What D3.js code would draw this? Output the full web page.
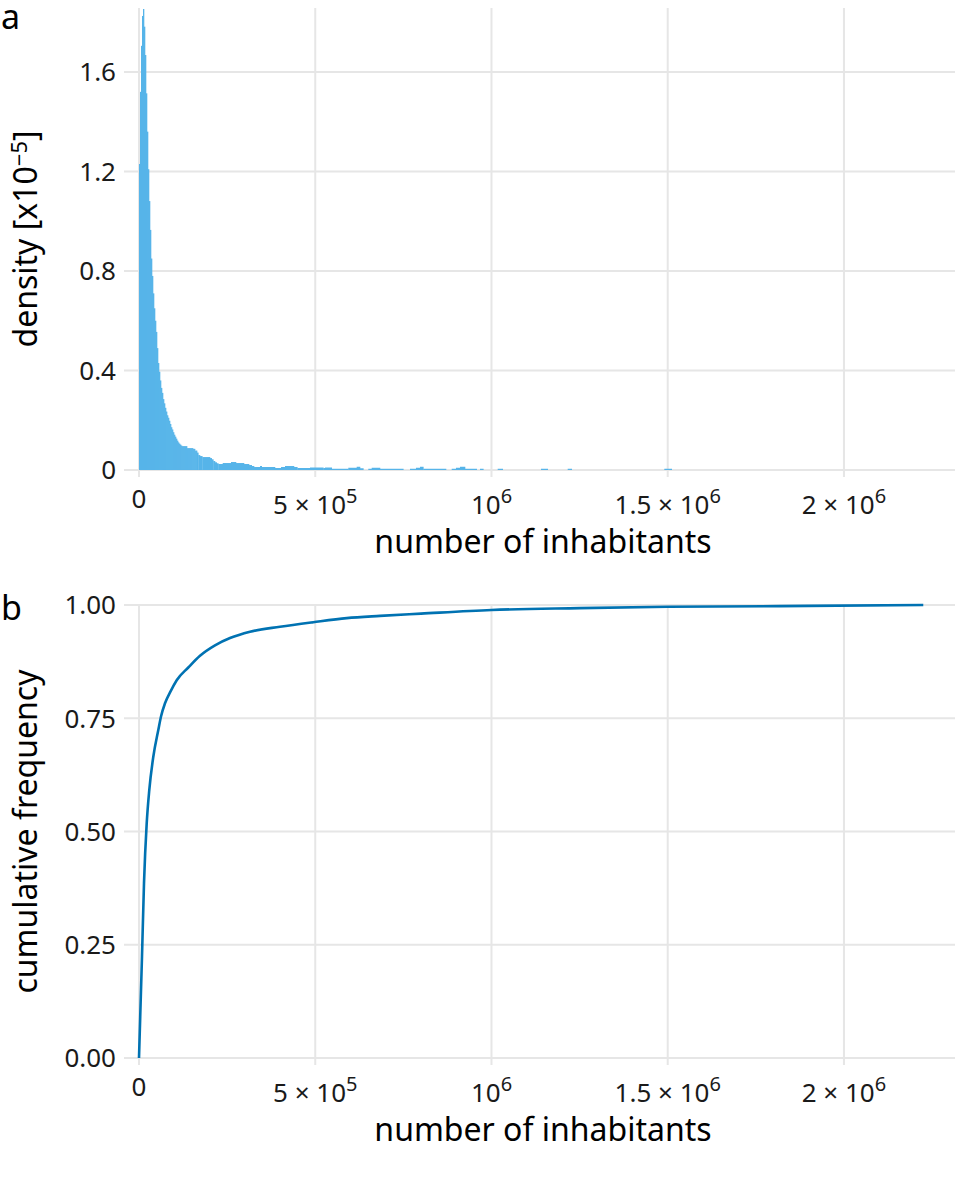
<!DOCTYPE html>
<html>
<head>
<meta charset="utf-8">
<script src="https://cdn.jsdelivr.net/npm/d3@7"></script>
<style>
  body { margin: 0; background: #fff; }
  svg { display: block; font-family: "Noto Sans", sans-serif; }
</style>
</head>
<body>
<svg id="chart" width="960" height="1186"></svg>
<script>
// histogram: regular bins of width binWidth starting at 0, density in units of 1e-5
const binWidth = 2840;
const densityFine = [
  1.23, 1.52, 1.705, 1.825, 1.853, 1.782, 1.668, 1.514, 1.36, 1.209,
  1.081, 0.965, 0.85, 0.78, 0.71, 0.65, 0.60, 0.555, 0.49, 0.43,
  0.395, 0.36, 0.33, 0.31, 0.285, 0.268, 0.25, 0.235, 0.22, 0.21,
  0.198, 0.185, 0.172, 0.163, 0.152, 0.142, 0.134, 0.126, 0.118, 0.111,
  0.106, 0.102, 0.098, 0.096, 0.096, 0.096, 0.096, 0.096, 0.088, 0.088,
  0.088, 0.088, 0.088, 0.088, 0.085, 0.085, 0.078, 0.078
];
// tail of the histogram: runs of bins with equal height [from, to, density]
const densityTail = [
  [164500, 168200, 0.070], [168200, 173100, 0.060], [173100, 179600, 0.056],
  [179600, 201400, 0.052], [201400, 206200, 0.048], [206200, 210800, 0.043],
  [210800, 215600, 0.036], [215600, 220400, 0.031], [220400, 225000, 0.027],
  [225000, 237500, 0.024], [237500, 261000, 0.028], [261000, 275200, 0.032],
  [275200, 297900, 0.028], [297900, 312100, 0.024], [312100, 319700, 0.020],
  [319700, 326300, 0.016], [326300, 343300, 0.012], [343300, 348100, 0.016],
  [348100, 385800, 0.012], [385800, 402900, 0.008], [402900, 414200, 0.012],
  [414200, 439700, 0.016], [439700, 449100, 0.012], [449100, 485100, 0.008],
  [485100, 522900, 0.010], [522900, 527700, 0.008], [527700, 546700, 0.010],
  [546700, 593800, 0.005], [593800, 617600, 0.009], [617600, 627000, 0.013],
  [627000, 636400, 0.007], [650500, 660100, 0.005], [660100, 683700, 0.009],
  [683700, 749800, 0.005], [768800, 785800, 0.005], [785800, 797200, 0.009],
  [797200, 806600, 0.013], [806600, 871000, 0.005], [887100, 899300, 0.005],
  [899300, 910700, 0.009], [910700, 924900, 0.013], [924900, 958000, 0.005],
  [967400, 976800, 0.005], [1017600, 1031800, 0.005], [1140500, 1159500, 0.005],
  [1216200, 1227600, 0.005], [1490300, 1511300, 0.005]
];

// empirical cumulative frequency
const ecdfX = [0, 8510, 14190, 21840, 29220, 40570, 54750, 62410, 73760, 89930,
  106950, 139870, 173060, 215610, 258200, 314900, 400000, 494500, 589300, 683700,
  800000, 1000000, 1250000, 1500000, 1900000, 2225000];
const ecdfY = [0, 0.224, 0.386, 0.518, 0.592, 0.665, 0.724, 0.754, 0.783, 0.810,
  0.834, 0.862, 0.888, 0.911, 0.927, 0.941, 0.952, 0.962, 0.971, 0.976,
  0.981, 0.989, 0.993, 0.996, 0.998, 1.0];

const xTicks = [0, 5e5, 1e6, 1.5e6, 2e6];
const xTickBase = ["0", "5 × 10", "10", "1.5 × 10", "2 × 10"];
const xTickExp = ["", "5", "6", "6", "6"];
const densityTicks = [0, 0.4, 0.8, 1.2, 1.6];
const densityTickLabels = ["0", "0.4", "0.8", "1.2", "1.6"];
const cumTicks = [0, 0.25, 0.5, 0.75, 1];
const cumTickLabels = ["0.00", "0.25", "0.50", "0.75", "1.00"];

const gridColor = "#e6e6e6";
const textColor = "#1a1a1a";
const left = 131, right = 955, tick = 7;

const svg = d3.select("#chart");

const x = d3.scaleLinear().domain([-22700, 2315000]).range([left, right]);

const bins = densityFine.map((d, i) => ({ x0: i * binWidth, x1: (i + 1) * binWidth, d }))
  .concat(densityTail.map(([x0, x1, d]) => ({ x0, x1, d })));

function panel(top, bottom, y, yTicks, yLabels, yTitle, tag) {
  const g = svg.append("g");

  // grid + ticks
  g.selectAll(".hgrid").data(yTicks).join("line")
    .attr("x1", left - tick).attr("x2", right)
    .attr("y1", d => y(d)).attr("y2", d => y(d))
    .attr("stroke", gridColor).attr("stroke-width", 2);
  g.selectAll(".vgrid").data(xTicks).join("line")
    .attr("x1", d => x(d)).attr("x2", d => x(d))
    .attr("y1", top).attr("y2", bottom + tick)
    .attr("stroke", gridColor).attr("stroke-width", 2);

  // y tick labels
  g.selectAll(".ylab").data(yTicks).join("text")
    .attr("x", left - tick - 8).attr("y", d => y(d))
    .attr("dy", "0.36em")
    .attr("text-anchor", "end")
    .attr("font-size", 26).attr("fill", textColor)
    .text((d, i) => yLabels[i]);

  // x tick labels
  const xl = g.selectAll(".xlab").data(xTicks).join("text")
    .attr("x", d => x(d))
    .attr("y", (d, i) => bottom + (xTickExp[i] ? 44 : 38))
    .attr("text-anchor", "middle")
    .attr("font-size", 26).attr("fill", textColor);
  xl.append("tspan").text((d, i) => xTickBase[i]);
  xl.append("tspan").attr("dy", -11).attr("font-size", 20).text((d, i) => xTickExp[i]);

  // axis titles
  g.append("text")
    .attr("x", (left + right) / 2).attr("y", bottom + 83)
    .attr("text-anchor", "middle")
    .attr("font-size", 32).attr("fill", "#000")
    .text("number of inhabitants");

  const yt = g.append("text")
    .attr("transform", `translate(37,${(top + bottom) / 2}) rotate(-90)`)
    .attr("text-anchor", "middle")
    .attr("font-size", 32).attr("fill", "#000");
  yTitle(yt);

  svg.append("text")
    .attr("x", 1).attr("y", tag.y)
    .attr("font-size", 34).attr("fill", "#000")
    .text(tag.text);

  return g;
}

// panel a: histogram
const yA = d3.scaleLinear().domain([0, 1.857]).range([470, 8]);
const gA = panel(8, 470, yA, densityTicks, densityTickLabels, t => {
  t.append("tspan").text("density [x10");
  t.append("tspan").attr("dy", -10).attr("font-size", 22).text("−5");
  t.append("tspan").attr("dy", 10).text("]");
}, { text: "a", y: 29 });

gA.append("g").selectAll("rect").data(bins).join("rect")
  .attr("x", d => x(d.x0))
  .attr("width", d => x(d.x1) - x(d.x0) + 0.3)
  .attr("y", d => yA(d.d))
  .attr("height", d => yA(0) - yA(d.d))
  .attr("fill", "#56B4E9");

// panel b: cumulative frequency
const yB = d3.scaleLinear().domain([0, 1]).range([1058, 605]);
const gB = panel(605, 1058, yB, cumTicks, cumTickLabels, t => {
  t.text("cumulative frequency");
}, { text: "b", y: 620 });

gB.append("path")
  .attr("fill", "none")
  .attr("stroke", "#0072B2")
  .attr("stroke-width", 2.6)
  .attr("stroke-linejoin", "round")
  .attr("d", d3.line()
    .x(d => x(d))
    .y((_, i) => yB(ecdfY[i]))
    .curve(d3.curveMonotoneX)(ecdfX));
</script>
</body>
</html>
